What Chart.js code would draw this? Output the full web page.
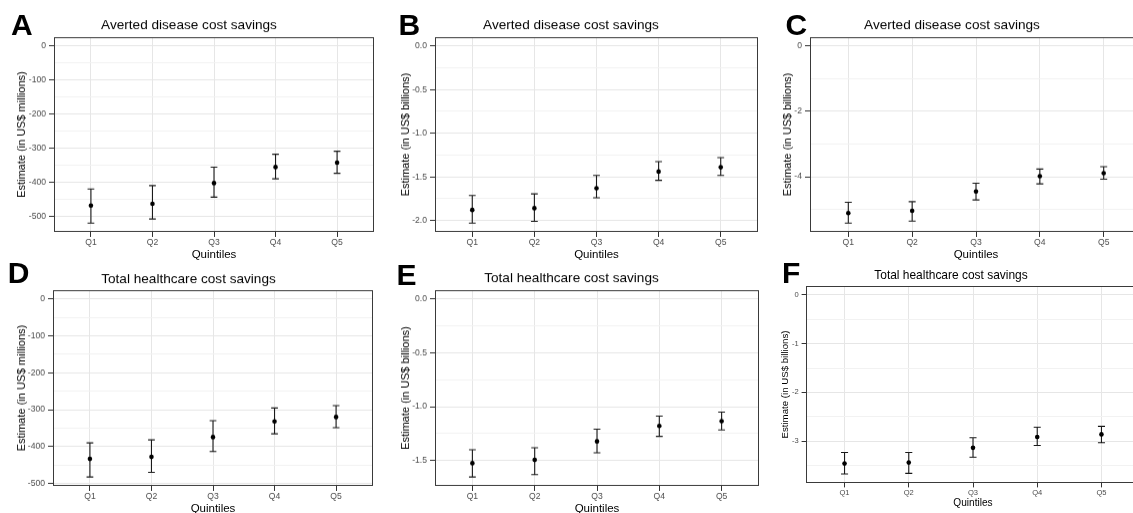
<!DOCTYPE html>
<html>
<head>
<meta charset="utf-8">
<script src="https://cdn.jsdelivr.net/npm/chart.js@4.4.0/dist/chart.umd.min.js"></script>
<style>
    html, body { margin: 0; padding: 0; background: #fff; }
    body { width: 1133px; height: 513px; overflow: hidden; position: relative; font-family: "Liberation Sans", Arial, sans-serif; }
    .panel { position: absolute; }
    .letter { position: absolute; font-weight: bold; font-size: 30px; line-height: 30px; color: #000; }
</style>
</head>
<body>
<div class="panel" id="boxA"><canvas id="chartA"></canvas></div>
<div class="panel" id="boxB"><canvas id="chartB"></canvas></div>
<div class="panel" id="boxC"><canvas id="chartC"></canvas></div>
<div class="panel" id="boxD"><canvas id="chartD"></canvas></div>
<div class="panel" id="boxE"><canvas id="chartE"></canvas></div>
<div class="panel" id="boxF"><canvas id="chartF"></canvas></div>

<div class="letter" style="left:11px; top:9.6px;">A</div>
<div class="letter" style="left:398.5px; top:9.6px;">B</div>
<div class="letter" style="left:785.4px; top:9.6px;">C</div>
<div class="letter" style="left:7.8px; top:258.3px;">D</div>
<div class="letter" style="left:396.5px; top:259.9px;">E</div>
<div class="letter" style="left:782.1px; top:257.9px;">F</div>

<script>
// Kategorien
const quintiles = ['Q1', 'Q2', 'Q3', 'Q4', 'Q5'];

// A: Averted disease cost savings (US$ millions)
const avertedMillionsEst  = [-468.5, -463.6, -402.7, -355.6, -342.7];
const avertedMillionsLow  = [-520, -508, -444, -390, -374];
const avertedMillionsHigh = [-420, -410, -356, -318, -309];

// B: Averted disease cost savings (US$ billions)
const avertedBillionsBEst  = [-1.88, -1.86, -1.63, -1.44, -1.39];
const avertedBillionsBLow  = [-2.03, -2.01, -1.74, -1.54, -1.484];
const avertedBillionsBHigh = [-1.715, -1.695, -1.484, -1.326, -1.279];

// C: Averted disease cost savings (US$ billions)
const avertedBillionsCEst  = [-5.11, -5.04, -4.45, -3.98, -3.89];
const avertedBillionsCLow  = [-5.415, -5.354, -4.708, -4.215, -4.072];
const avertedBillionsCHigh = [-4.78, -4.76, -4.195, -3.764, -3.692];

// D: Total healthcare cost savings (US$ millions)
const totalMillionsEst  = [-433.6, -428.2, -374.5, -331.8, -320];
const totalMillionsLow  = [-482.7, -470, -413.6, -365.5, -349];
const totalMillionsHigh = [-390, -381.8, -330, -295.5, -289];

// E: Total healthcare cost savings (US$ billions)
const totalBillionsEEst  = [-1.525, -1.494, -1.322, -1.178, -1.134];
const totalBillionsELow  = [-1.653, -1.631, -1.428, -1.275, -1.216];
const totalBillionsEHigh = [-1.40, -1.381, -1.209, -1.0875, -1.05];

// F: Total healthcare cost savings (US$ billions)
const totalBillionsFEst  = [-3.462, -3.441, -3.138, -2.917, -2.862];
const totalBillionsFLow  = [-3.676, -3.662, -3.331, -3.09, -3.034];
const totalBillionsFHigh = [-3.234, -3.234, -2.931, -2.717, -2.697];

// Tick-Werte (Haupt- und Nebenlinien)
const ticksMillions      = [0, -100, -200, -300, -400, -500];
const minorMillions      = [-50, -150, -250, -350, -450];
const ticksBillionsB     = [0, -0.5, -1, -1.5, -2];
const minorBillionsB     = [-0.25, -0.75, -1.25, -1.75];
const ticksBillionsC     = [0, -2, -4];
const minorBillionsC     = [-1, -3, -5];
const ticksBillionsE     = [0, -0.5, -1, -1.5];
const minorBillionsE     = [-0.25, -0.75, -1.25];
const ticksBillionsF     = [0, -1, -2, -3];
const minorBillionsF     = [-0.5, -1.5, -2.5, -3.5];

const titleAverted = 'Averted disease cost savings';
const titleTotal = 'Total healthcare cost savings';
const yTitleMillions = 'Estimate (in US$ millions)';
const yTitleBillions = 'Estimate (in US$ billions)';

Chart.defaults.font.family = '"Liberation Sans", Arial, sans-serif';

// Fehlerbalken unter den Punkten zeichnen
const errorBarPlugin = {
    id: 'errorBars',
    beforeDatasetsDraw(chart) {
        const ctx = chart.ctx;
        const xs = chart.scales.x, ys = chart.scales.y;
        const ds = chart.data.datasets[0];
        ctx.save();
        ctx.strokeStyle = '#1a1a1a';
        ctx.lineWidth = 1.1;
        ds.data.forEach((pt, i) => {
            const x = xs.getPixelForValue(pt.x);
            const xl = xs.getPixelForValue(pt.x - 0.055);
            const xr = xs.getPixelForValue(pt.x + 0.055);
            const yLow = ys.getPixelForValue(ds.low[i]);
            const yHigh = ys.getPixelForValue(ds.high[i]);
            ctx.beginPath();
            ctx.moveTo(x, yLow); ctx.lineTo(x, yHigh);
            ctx.moveTo(xl, yLow); ctx.lineTo(xr, yLow);
            ctx.moveTo(xl, yHigh); ctx.lineTo(xr, yHigh);
            ctx.stroke();
        });
        ctx.restore();
    }
};

// Rahmen um das Panel (theme_bw)
const panelBorderPlugin = {
    id: 'panelBorder',
    afterDraw(chart) {
        const a = chart.chartArea;
        const ctx = chart.ctx;
        ctx.save();
        ctx.strokeStyle = '#3a3a3a';
        ctx.lineWidth = 1;
        ctx.strokeRect(Math.round(a.left) + 0.5, Math.round(a.top) + 0.5,
                       Math.round(a.right - a.left) - 1, Math.round(a.bottom - a.top) - 1);
        ctx.restore();
    }
};

const panels = [
    { id: 'A', title: titleAverted, yTitle: yTitleMillions, est: avertedMillionsEst, low: avertedMillionsLow, high: avertedMillionsHigh,
      major: ticksMillions, minor: minorMillions, decimals: 0,
      x0: 0, y0: 0, L: 54, T: 37, R: 377, B: 231, titleCy: 25, yTitleCx: 22, xTitleCy: 253.5, fs: 1 },
    { id: 'B', title: titleAverted, yTitle: yTitleBillions, est: avertedBillionsBEst, low: avertedBillionsBLow, high: avertedBillionsBHigh,
      major: ticksBillionsB, minor: minorBillionsB, decimals: 1,
      x0: 380, y0: 0, L: 435, T: 37, R: 761, B: 231, titleCy: 25, yTitleCx: 405.8, xTitleCy: 253.5, fs: 1 },
    { id: 'C', title: titleAverted, yTitle: yTitleBillions, est: avertedBillionsCEst, low: avertedBillionsCLow, high: avertedBillionsCHigh,
      major: ticksBillionsC, minor: minorBillionsC, decimals: 0,
      x0: 758, y0: 0, L: 810, T: 37, R: 1145, B: 231, titleCy: 25, yTitleCx: 787.6, xTitleCy: 253.5, fs: 1 },
    { id: 'D', title: titleTotal, yTitle: yTitleMillions, est: totalMillionsEst, low: totalMillionsLow, high: totalMillionsHigh,
      major: ticksMillions, minor: minorMillions, decimals: 0,
      x0: 0, y0: 256, L: 53, T: 290, R: 376, B: 485, titleCy: 279.5, yTitleCx: 22, xTitleCy: 507.7, fs: 1 },
    { id: 'E', title: titleTotal, yTitle: yTitleBillions, est: totalBillionsEEst, low: totalBillionsELow, high: totalBillionsEHigh,
      major: ticksBillionsE, minor: minorBillionsE, decimals: 1,
      x0: 380, y0: 256, L: 435, T: 290, R: 762, B: 485, titleCy: 278.5, yTitleCx: 405.8, xTitleCy: 507.7, fs: 1 },
    { id: 'F', title: titleTotal, yTitle: yTitleBillions, est: totalBillionsFEst, low: totalBillionsFLow, high: totalBillionsFHigh,
      major: ticksBillionsF, minor: minorBillionsF, decimals: 0,
      x0: 758, y0: 256, L: 806, T: 286, R: 1143, B: 483, titleCy: 276, yTitleCx: 785.6, xTitleCy: 503.3, fs: 0.88 }
];

function createPanel(p) {
    const box = document.getElementById('box' + p.id);
    const width = p.R - p.x0 + 1;
    const bottom = p.xTitleCy + 8;
    const height = bottom - p.y0;
    box.style.left = p.x0 + 'px';
    box.style.top = p.y0 + 'px';
    box.style.width = width + 'px';
    box.style.height = height + 'px';

    const fs = p.fs;
    const titleSize = 13.6 * fs, titleLh = titleSize * 1.2;
    const titlePadTop = p.titleCy - p.y0 - titleLh / 2;
    const titlePadBottom = p.T - p.y0 - titlePadTop - titleLh;
    const yTitleSize = 11 * fs, yTitleLh = yTitleSize * 1.2;
    const xTitleSize = 11.5 * fs, xTitleLh = xTitleSize * 1.2;
    const tickSize = 8.6 * fs, tickLen = 5 * fs;

    // ggplot-Skalierung: 5 % Rand um Daten inkl. 0
    const lo = Math.min(0, ...p.low), hi = Math.max(0, ...p.high);
    const pad = (hi - lo) * 0.05;
    const allTicks = [...p.major, ...p.minor].sort((a, b) => a - b);
    const isMajor = v => p.major.includes(v);

    return new Chart(document.getElementById('chart' + p.id), {
        type: 'scatter',
        data: {
            datasets: [{
                data: p.est.map((v, i) => ({ x: i + 1, y: v })),
                low: p.low,
                high: p.high,
                backgroundColor: '#000',
                borderColor: '#000',
                pointRadius: 2.3,
                pointBorderWidth: 0
            }]
        },
        options: {
            responsive: true,
            maintainAspectRatio: false,
            animation: false,
            layout: { padding: 0 },
            plugins: {
                legend: { display: false },
                tooltip: { enabled: false },
                title: {
                    display: true,
                    text: p.title,
                    color: '#000',
                    font: { size: titleSize, weight: 'normal', lineHeight: 1.2 },
                    padding: { top: titlePadTop, bottom: titlePadBottom }
                }
            },
            scales: {
                x: {
                    type: 'linear',
                    min: 0.4,
                    max: 5.6,
                    afterBuildTicks: axis => { axis.ticks = quintiles.map((q, i) => ({ value: i + 1 })); },
                    afterFit: axis => { axis.height = bottom - p.B; },
                    ticks: {
                        autoSkip: false,
                        maxRotation: 0,
                        padding: 0.5,
                        color: '#4d4d4d',
                        font: { size: tickSize },
                        callback: v => quintiles[v - 1]
                    },
                    grid: { color: '#e6e6e6', tickColor: '#333', tickLength: tickLen },
                    border: { display: false },
                    title: {
                        display: true,
                        text: 'Quintiles',
                        color: '#000',
                        font: { size: xTitleSize, lineHeight: 1.2 },
                        padding: { top: 0, bottom: bottom - p.xTitleCy - xTitleLh / 2 }
                    }
                },
                y: {
                    type: 'linear',
                    min: lo - pad,
                    max: hi + pad,
                    afterBuildTicks: axis => { axis.ticks = allTicks.map(v => ({ value: v })); },
                    afterFit: axis => { axis.width = p.L - p.x0; },
                    ticks: {
                        autoSkip: false,
                        padding: 3,
                        color: '#4d4d4d',
                        font: { size: tickSize },
                        callback: v => isMajor(v) ? v.toFixed(p.decimals) : ''
                    },
                    grid: {
                        color: ctx => isMajor(ctx.tick.value) ? '#e6e6e6' : '#f2f2f2',
                        tickColor: ctx => isMajor(ctx.tick.value) ? '#333' : 'rgba(0,0,0,0)',
                        tickLength: tickLen
                    },
                    border: { display: false },
                    title: {
                        display: true,
                        text: p.yTitle,
                        color: '#000',
                        font: { size: yTitleSize, lineHeight: 1.2 },
                        padding: { top: p.yTitleCx - p.x0 - yTitleLh / 2, bottom: 0 }
                    }
                }
            }
        },
        plugins: [errorBarPlugin, panelBorderPlugin]
    });
}

panels.forEach(createPanel);
</script>
</body>
</html>
